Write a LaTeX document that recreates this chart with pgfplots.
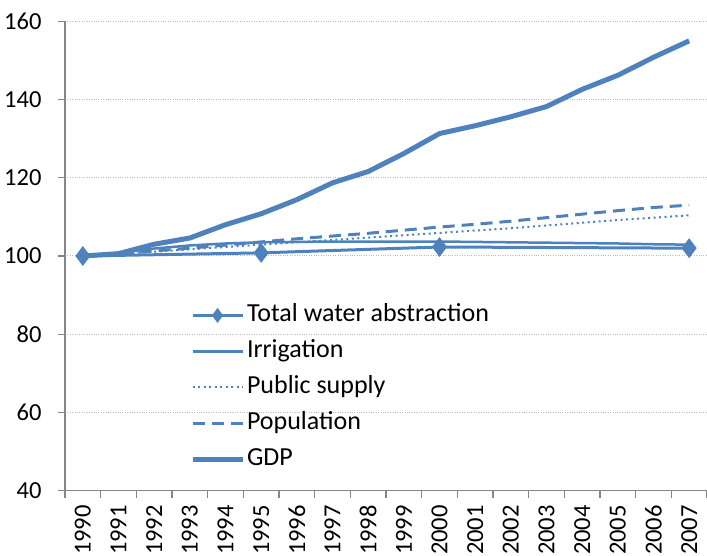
\documentclass[border=0pt]{standalone}
\usepackage{pgfplots}
\pgfplotsset{compat=1.18}
\usepackage{fontspec}
\setmainfont{Carlito}
\definecolor{ser}{RGB}{79,129,189}
\definecolor{axgray}{RGB}{134,134,134}
\definecolor{gridgray}{RGB}{185,185,185}
\begin{document}
\begin{tikzpicture}
\useasboundingbox (-65bp,-65.3bp) rectangle (642bp,490.7bp);
\begin{axis}[
  scale only axis, width=642bp, height=469.4bp,
  at={(0,0)}, anchor=south west,
  xmin=-0.5, xmax=17.5, ymin=40, ymax=160,
  axis x line*=bottom, axis y line*=left,
  axis line style={axgray, line width=1.2bp},
  xtick={-0.5,0.5,...,17.5},
  x tick label as interval,
  xticklabels={1990,1991,1992,1993,1994,1995,1996,1997,1998,1999,2000,2001,2002,2003,2004,2005,2006,2007},
  xticklabel style={rotate=90, anchor=east, font=\fontsize{24.5bp}{28bp}\selectfont},
  xticklabel shift=4bp,
  ytick={40,60,...,160},
  yticklabel style={font=\fontsize{24.5bp}{28bp}\selectfont},
  yticklabel shift=13bp,
  /pgf/number format/assume math mode=true,
  major tick length=7bp,
  tick align=outside,
  tick style={axgray, line width=1.2bp},
  ymajorgrids, grid style={gridgray, dotted, line width=1bp},
  legend style={at={(axis cs:3.0,88.7)}, anchor=north west, draw=none, fill=none,
    font=\fontsize{26bp}{30bp}\selectfont, inner sep=0pt, row sep=6bp,
    nodes={inner sep=2bp, text height=19bp, text depth=7bp}},
  legend cell align=left,
  legend image code/.code={\draw[mark repeat=2,mark phase=2,#1] plot coordinates {(0bp,0bp) (25bp,0bp) (50bp,0bp)};},
]
\addplot[ser, line width=3bp, mark=diamond*, mark size=7.5bp, mark options={solid}, legend image post style={mark size=5bp}]
  coordinates {(0,100) (5,100.8) (10,102.3) (17,102.0)};
\addlegendentry{Total water abstraction}
\addplot[ser, line width=2.5bp] coordinates {
  (0,100) (1,100.8) (2,101.9) (3,102.7) (4,103.2) (5,103.5) (6,103.6) (7,103.7) (8,103.7)
  (9,103.7) (10,103.7) (11,103.6) (12,103.5) (13,103.4) (14,103.3) (15,103.2) (16,103.0) (17,102.9)};
\addlegendentry{Irrigation}
\addplot[ser, line width=2bp, dash pattern=on 2bp off 3.5bp] coordinates {
  (0,100) (1,100.5) (2,101.1) (3,101.7) (4,102.3) (5,102.9) (6,103.5) (7,104.1) (8,104.7)
  (9,105.3) (10,105.9) (11,106.5) (12,107.1) (13,107.8) (14,108.5) (15,109.2) (16,109.8) (17,110.4)};
\addlegendentry{Public supply}
\addplot[ser, line width=3bp, dash pattern=on 12bp off 7bp] coordinates {
  (0,100) (1,100.6) (2,101.3) (3,102.0) (4,102.8) (5,103.6) (6,104.4) (7,105.1) (8,105.8)
  (9,106.6) (10,107.4) (11,108.1) (12,108.9) (13,109.8) (14,110.7) (15,111.6) (16,112.4) (17,113.0)};
\addlegendentry{Population}
\addplot[ser, line width=5bp] coordinates {
  (0,100) (1,100.6) (2,103.0) (3,104.6) (4,108.0) (5,110.8) (6,114.4) (7,118.7) (8,121.6)
  (9,126.2) (10,131.3) (11,133.3) (12,135.6) (13,138.2) (14,142.6) (15,146.2) (16,150.8) (17,155.0)};
\addlegendentry{GDP}
\end{axis}
\end{tikzpicture}
\end{document}
